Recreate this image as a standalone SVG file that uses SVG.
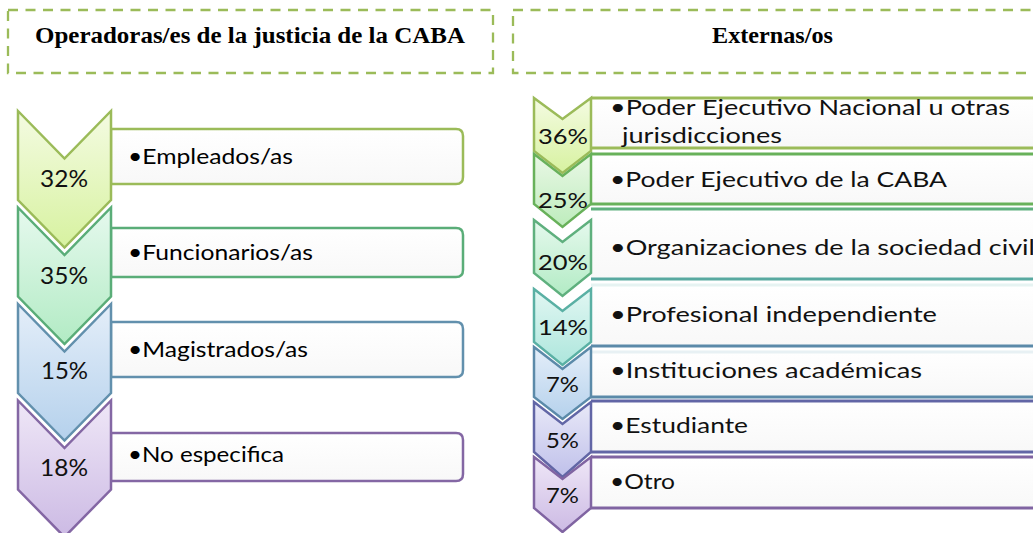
<svg xmlns="http://www.w3.org/2000/svg" width="1033" height="533" viewBox="0 0 1033 533">
<style>
.hdr{fill:#fff;stroke:#9bbb59;stroke-width:2.3;stroke-dasharray:10 7.5}
.ht{font-family:"Liberation Serif","Times New Roman",serif;font-weight:bold;font-size:23px;fill:#000}
.it{font-family:Lato,"Open Sans","Noto Sans",sans-serif;font-size:22px;fill:#000}
.itr{font-family:Lato,"Open Sans","Noto Sans",sans-serif;font-size:21px;fill:#111}
.pc{font-family:Lato,"Open Sans","Noto Sans",sans-serif;font-size:23px;fill:#111}
.pcr{font-family:Lato,"Open Sans","Noto Sans",sans-serif;font-size:21px;fill:#111}
.chev{stroke-width:2.5;stroke-linejoin:miter}
.lb{fill:url(#box);stroke-width:2.5}
.rb{fill:url(#box)}
.ln{stroke-width:3}
</style>
<defs>
<linearGradient id="box" x1="0" y1="0" x2="0" y2="1"><stop offset="0" stop-color="#ffffff"/><stop offset="1" stop-color="#f8f8f8"/></linearGradient>
<linearGradient id="fOl" x1="0" y1="0" x2="0" y2="1"><stop offset="0" stop-color="#f4fbe2"/><stop offset="1" stop-color="#d7f2a0"/></linearGradient>
<linearGradient id="fGr" x1="0" y1="0" x2="0" y2="1"><stop offset="0" stop-color="#e6f9ee"/><stop offset="1" stop-color="#b2ebc4"/></linearGradient>
<linearGradient id="fGr2" x1="0" y1="0" x2="0" y2="1"><stop offset="0" stop-color="#eaf8e6"/><stop offset="1" stop-color="#bdecbc"/></linearGradient>
<linearGradient id="fTl" x1="0" y1="0" x2="0" y2="1"><stop offset="0" stop-color="#e2f7f3"/><stop offset="1" stop-color="#ade6dc"/></linearGradient>
<linearGradient id="fBl" x1="0" y1="0" x2="0" y2="1"><stop offset="0" stop-color="#e4eef9"/><stop offset="1" stop-color="#b5d1ec"/></linearGradient>
<linearGradient id="fIn" x1="0" y1="0" x2="0" y2="1"><stop offset="0" stop-color="#e9e9f8"/><stop offset="1" stop-color="#bfc0ea"/></linearGradient>
<linearGradient id="fPu" x1="0" y1="0" x2="0" y2="1"><stop offset="0" stop-color="#efe7f7"/><stop offset="1" stop-color="#ccbae4"/></linearGradient>
</defs>

<g id="header-left">
<rect class="hdr" x="8" y="10" width="485" height="63"/>
<text class="ht" x="35" y="43" textLength="430" lengthAdjust="spacingAndGlyphs">Operadoras/es de la justicia de la CABA</text>
</g>
<g id="header-right">
<rect class="hdr" x="513" y="10" width="540" height="63"/>
<text class="ht" x="712" y="43" textLength="121" lengthAdjust="spacingAndGlyphs">Externas/os</text>
</g>

<g id="left-empleados">
<path class="lb" stroke="#9bbb59" d="M111,129 H456 Q463,129 463,136 V177 Q463,184 456,184 H111 Z"/>
<path class="chev" fill="url(#fOl)" stroke="#9bbb59" d="M18,111 L64.5,158.5 L111,111 L111,200 L64.5,247.5 L18,200 Z"/>
<text class="pc" x="40" y="187" textLength="48" lengthAdjust="spacingAndGlyphs">32%</text>
<text class="it" x="128" y="164" textLength="165" lengthAdjust="spacingAndGlyphs">•Empleados/as</text>
</g>
<g id="left-funcionarios">
<path class="lb" stroke="#5aad78" d="M111,228 H456 Q463,228 463,235 V270 Q463,277 456,277 H111 Z"/>
<path class="chev" fill="url(#fGr)" stroke="#5aad78" d="M18,207.5 L64.5,255 L111,207.5 L111,296.5 L64.5,344 L18,296.5 Z"/>
<text class="pc" x="40" y="284" textLength="48" lengthAdjust="spacingAndGlyphs">35%</text>
<text class="it" x="128" y="260" textLength="185" lengthAdjust="spacingAndGlyphs">•Funcionarios/as</text>
</g>
<g id="left-magistrados">
<path class="lb" stroke="#6290ad" d="M111,322 H456 Q463,322 463,329 V370 Q463,377 456,377 H111 Z"/>
<path class="chev" fill="url(#fBl)" stroke="#6290ad" d="M18,304 L64.5,351.5 L111,304 L111,393 L64.5,440.5 L18,393 Z"/>
<text class="pc" x="41" y="379" textLength="47" lengthAdjust="spacingAndGlyphs">15%</text>
<text class="it" x="128" y="357" textLength="180" lengthAdjust="spacingAndGlyphs">•Magistrados/as</text>
</g>
<g id="left-noespecifica">
<path class="lb" stroke="#8467a4" d="M111,433 H456 Q463,433 463,440 V474 Q463,481 456,481 H111 Z"/>
<path class="chev" fill="url(#fPu)" stroke="#8467a4" d="M18,400.5 L64.5,448 L111,400.5 L111,489.5 L64.5,537 L18,489.5 Z"/>
<text class="pc" x="40" y="476" textLength="48" lengthAdjust="spacingAndGlyphs">18%</text>
<text class="it" x="128" y="462" textLength="156" lengthAdjust="spacingAndGlyphs">•No especifica</text>
</g>

<g id="right-pen">
<rect class="rb" x="591" y="98" width="460" height="50"/>
<line class="ln" stroke="#9bbb59" x1="591" y1="98" x2="1040" y2="98"/>
<line class="ln" stroke="#9bbb59" x1="591" y1="148" x2="1040" y2="148"/>
<path class="chev" fill="url(#fOl)" stroke="#9bbb59" d="M534,98 L562.5,119 L591,98 L591,151 L562.5,173 L534,151 Z"/>
<text class="pcr" x="538" y="144" textLength="50" lengthAdjust="spacingAndGlyphs">36%</text>
<text class="itr" x="610" y="115" textLength="400" lengthAdjust="spacingAndGlyphs">•Poder Ejecutivo Nacional u otras</text>
<text class="itr" x="622" y="143" textLength="160" lengthAdjust="spacingAndGlyphs">jurisdicciones</text>
</g>
<g id="right-caba">
<rect class="rb" x="591" y="154" width="460" height="50"/>
<line class="ln" stroke="#68b15a" x1="591" y1="154" x2="1040" y2="154"/>
<line class="ln" stroke="#68b15a" x1="591" y1="204" x2="1040" y2="204"/>
<path class="chev" fill="url(#fGr2)" stroke="#68b15a" d="M534,154 L562.5,176 L591,154 L591,204 L562.5,227 L534,204 Z"/>
<text class="pcr" x="538" y="208" textLength="50" lengthAdjust="spacingAndGlyphs">25%</text>
<text class="itr" x="610" y="187" textLength="337" lengthAdjust="spacingAndGlyphs">•Poder Ejecutivo de la CABA</text>
</g>
<g id="right-osc">
<rect class="rb" x="591" y="209" width="460" height="70"/>
<line class="ln" stroke="#5fb07e" x1="591" y1="209" x2="1040" y2="209"/>
<line class="ln" stroke="#58a9a0" x1="591" y1="279" x2="1040" y2="279"/>
<path class="chev" fill="url(#fGr)" stroke="#5fb07e" d="M534,220 L562.5,242 L591,220 L591,273 L562.5,296 L534,273 Z"/>
<text class="pcr" x="538" y="270" textLength="50" lengthAdjust="spacingAndGlyphs">20%</text>
<text class="itr" x="610" y="255" textLength="425" lengthAdjust="spacingAndGlyphs">•Organizaciones de la sociedad civil</text>
</g>
<g id="right-profesional">
<rect class="rb" x="591" y="285" width="460" height="61"/>
<line class="ln" stroke="#e6f3f2" x1="591" y1="285" x2="1040" y2="285"/>
<line class="ln" stroke="#5b8aa9" x1="591" y1="346" x2="1040" y2="346"/>
<path class="chev" fill="url(#fTl)" stroke="#5ab0a4" d="M534,289 L562.5,311 L591,289 L591,342 L562.5,365 L534,342 Z"/>
<text class="pcr" x="538" y="335" textLength="50" lengthAdjust="spacingAndGlyphs">14%</text>
<text class="itr" x="610" y="322" textLength="327" lengthAdjust="spacingAndGlyphs">•Profesional independiente</text>
</g>
<g id="right-academicas">
<rect class="rb" x="591" y="352" width="460" height="45"/>
<line class="ln" stroke="#e8f1f4" x1="591" y1="352" x2="1040" y2="352"/>
<line class="ln" stroke="#5b8aa9" x1="591" y1="397" x2="1040" y2="397"/>
<path class="chev" fill="url(#fBl)" stroke="#5b8aa9" d="M534,347 L562.5,369 L591,347 L591,397 L562.5,419 L534,397 Z"/>
<text class="pcr" x="546" y="392" textLength="33" lengthAdjust="spacingAndGlyphs">7%</text>
<text class="itr" x="610" y="378" textLength="312" lengthAdjust="spacingAndGlyphs">•Instituciones académicas</text>
</g>
<g id="right-estudiante">
<rect class="rb" x="591" y="401" width="460" height="51"/>
<line class="ln" stroke="#6266a6" x1="591" y1="401" x2="1040" y2="401"/>
<line class="ln" stroke="#6266a6" x1="591" y1="452" x2="1040" y2="452"/>
<path class="chev" fill="url(#fIn)" stroke="#6266a6" d="M534,402 L562.5,424 L591,402 L591,452 L562.5,477 L534,452 Z"/>
<text class="pcr" x="546" y="448" textLength="33" lengthAdjust="spacingAndGlyphs">5%</text>
<text class="itr" x="610" y="433" textLength="138" lengthAdjust="spacingAndGlyphs">•Estudiante</text>
</g>
<g id="right-otro">
<rect class="rb" x="591" y="457" width="460" height="51"/>
<line class="ln" stroke="#8064a2" x1="591" y1="457" x2="1040" y2="457"/>
<line class="ln" stroke="#8064a2" x1="591" y1="508" x2="1040" y2="508"/>
<path class="chev" fill="url(#fPu)" stroke="#8064a2" d="M534,457 L562.5,479 L591,457 L591,508 L562.5,532 L534,508 Z"/>
<text class="pcr" x="546" y="503" textLength="33" lengthAdjust="spacingAndGlyphs">7%</text>
<text class="itr" x="610" y="489" textLength="65" lengthAdjust="spacingAndGlyphs">•Otro</text>
</g>
<g id="connectors"/>
</svg>
